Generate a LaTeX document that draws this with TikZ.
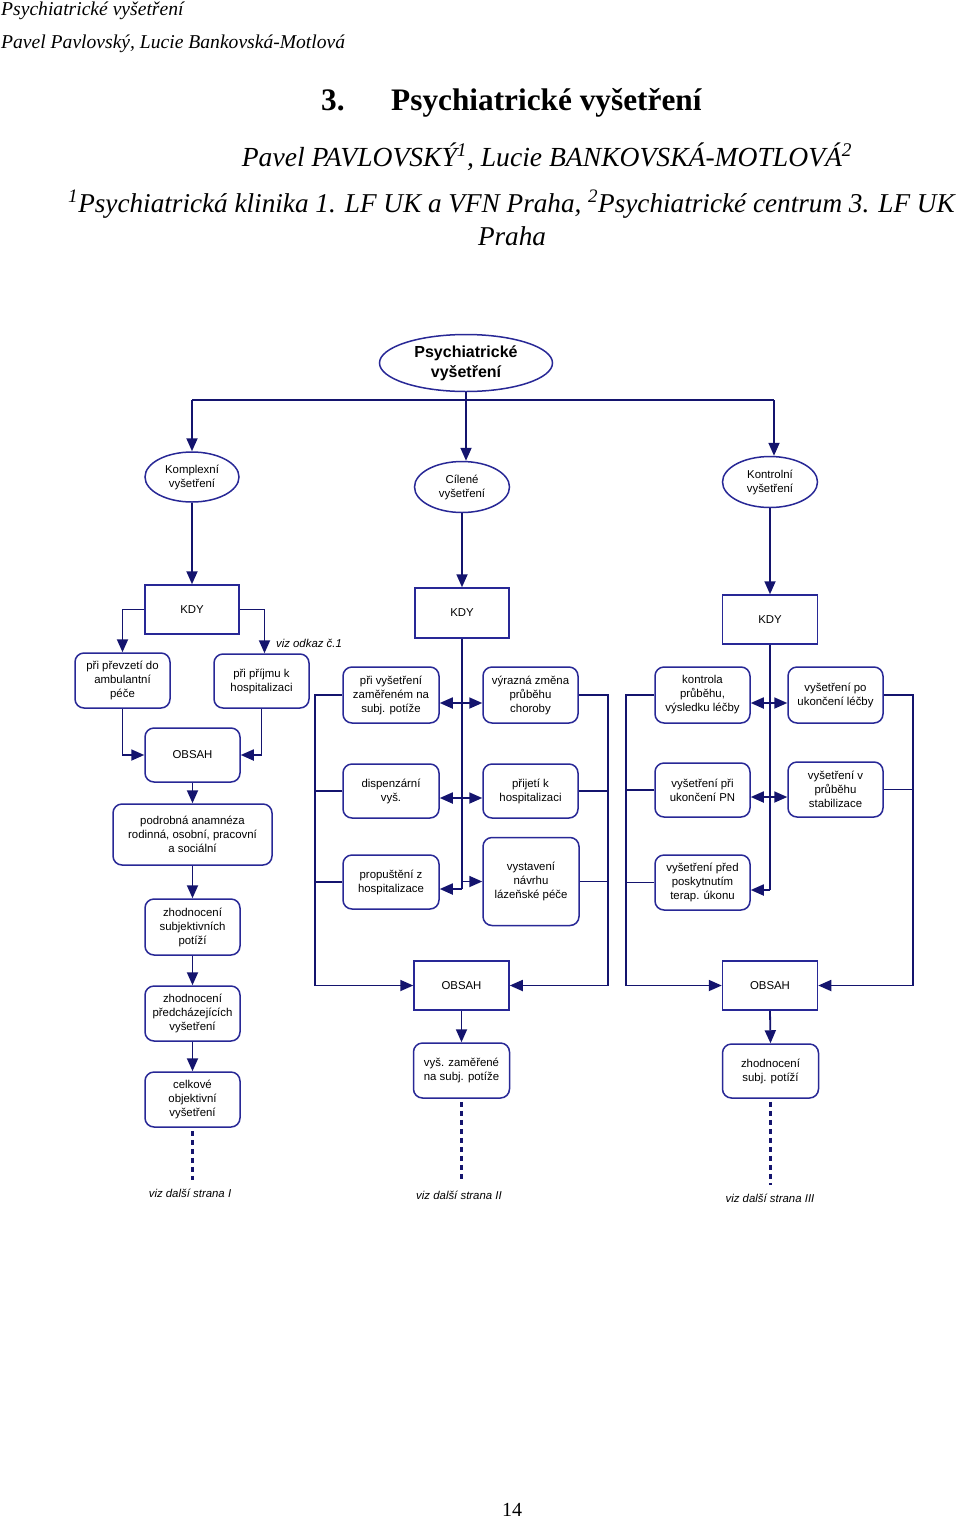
\documentclass[tikz,border=0pt]{standalone}
\usepackage{fontspec}
\setmainfont{Liberation Serif}
\newfontfamily\arial{Liberation Sans}
\usetikzlibrary{shapes.geometric,arrows.meta}
\definecolor{boxcol}{RGB}{40,40,150}
\definecolor{linecol}{RGB}{20,20,110}
\tikzset{
 dtext/.style={font=\arial\fontsize{11.4}{14}\selectfont, align=center, text=black},
 ell/.style={dtext, ellipse, draw=boxcol, line width=1.5pt, inner sep=0pt},
 sqbox/.style={dtext, rectangle, draw=boxcol, line width=1.5pt, inner sep=0pt, minimum width=94pt, minimum height=49pt},
 rbox/.style={dtext, rectangle, rounded corners=9pt, draw=boxcol, line width=1.5pt, inner sep=0pt, minimum width=95pt, minimum height=55pt},
 conn/.style={draw=linecol, line width=1.8pt},
 arr/.style={conn, -{Triangle[length=13pt,width=11pt]}},
 dotl/.style={draw=linecol, line width=2.2pt, dash pattern=on 5pt off 4pt, shorten <=3pt},
 note/.style={font=\arial\itshape\fontsize{11.4}{14}\selectfont, text=black, inner sep=0pt},
 serif/.style={inner sep=0pt, text=black},
}
\begin{document}
\begin{tikzpicture}[x=1pt,y=-1pt]
\useasboundingbox[fill=white] (0,0) rectangle (960,1521);

% ---------- header ----------
\node[serif, anchor=base west, font=\itshape\fontsize{19.6}{22}\selectfont] (h1) at (1,15) {Psychiatrické vyšetření};
\node[serif, anchor=base west, font=\itshape\fontsize{19.6}{22}\selectfont] (h2) at (1,48) {Pavel Pavlovský, Lucie Bankovská-Motlová};
\node[serif, anchor=base west, font=\bfseries\fontsize{31.3}{34}\selectfont] (t1) at (321,110) {3.};
\node[serif, anchor=base west, font=\bfseries\fontsize{31.3}{34}\selectfont] (t2) at (391,110) {Psychiatrické vyšetření};
\node[serif, anchor=base, font=\itshape\fontsize{27.6}{30}\selectfont] (au) at (547,166) {Pavel PAVLOVSKÝ\textsuperscript{1}, Lucie BANKOVSKÁ-MOTLOVÁ\textsuperscript{2}};
\node[serif, anchor=base, font=\itshape\fontsize{27.2}{30}\selectfont] (af) at (511.5,212) {\textsuperscript{1}Psychiatrická klinika 1. LF UK a VFN Praha, \textsuperscript{2}Psychiatrické centrum 3. LF UK};
\node[serif, anchor=base, font=\itshape\fontsize{27.2}{30}\selectfont] (af2) at (512,245) {Praha};

% ---------- top ----------
\node[ell, font=\arial\bfseries\fontsize{16}{20}\selectfont, minimum width=173pt, minimum height=57pt] (root) at (466,363) {Psychiatrické\\vyšetření};
\node[ell, minimum width=94pt, minimum height=50pt] (komp) at (192,477) {Komplexní\\vyšetření};
\node[ell, minimum width=95pt, minimum height=51pt] (cil) at (462,487) {Cílené\\vyšetření};
\node[ell, minimum width=95pt, minimum height=51pt] (kon) at (770,482) {Kontrolní\\vyšetření};

\coordinate (hl) at (192,400);
\coordinate (hm) at (466,400);
\coordinate (hr) at (774,400);
\draw[conn] (root.south) -- (hm);
\draw[conn] (hl) -- (hr);
\draw[arr] (hl) -- (komp.north);
\draw[arr] (hm) -- (hm |- cil.north);
\draw[arr] (hr) -- (hr |- kon.north);

% ---------- KDY ----------
\node[sqbox] (kdy1) at (192,609.5) {KDY};
\node[sqbox, minimum height=50pt] (kdy2) at (462,613) {KDY};
\node[sqbox, minimum width=95pt] (kdy3) at (770,619.5) {KDY};
\draw[arr] (komp.south) -- (kdy1.north);
\draw[arr] (cil.south) -- (kdy2.north);
\draw[arr] (kon.south) -- (kdy3.north);

% ---------- left column ----------
\node[rbox] (a1) at (122.5,680.5) {při převzetí do\\ambulantní\\péče};
\node[rbox, minimum height=54pt] (a2) at (261.5,681) {při příjmu k\\hospitalizaci};
\node[note] (viz1) at (309,643) {viz odkaz č.1};
\draw[arr] (kdy1.west) -| (a1.north);
\draw[arr] (kdy1.east) -| ([xshift=3pt]a2.north);

\node[rbox, minimum height=54pt] (obs1) at (192.5,755) {OBSAH};
\draw[arr] (a1.south) |- (obs1.west);
\draw[arr] (a2.south) |- (obs1.east);

\node[rbox, minimum width=159pt, minimum height=61pt] (pod) at (192.5,834.5) {podrobná anamnéza\\rodinná, osobní, pracovní\\a sociální};
\node[rbox, minimum height=56pt] (zs) at (192.5,927) {zhodnocení\\subjektivních\\potíží};
\node[rbox] (zp) at (192.5,1013.5) {zhodnocení\\předcházejících\\vyšetření};
\node[rbox] (co) at (192.5,1099.5) {celkové\\objektivní\\vyšetření};
\draw[arr] (obs1.south) -- (pod.north);
\draw[arr] (pod.south) -- (zs.north);
\draw[arr] (zs.south) -- (zp.north);
\draw[arr] (zp.south) -- (co.north);
\coordinate (e1) at (192.5,1180);
\draw[dotl] (co.south) -- (e1);
\node[note] (n1) at (190,1193) {viz další strana I};

% ---------- middle column ----------
\node[rbox, minimum width=96pt, minimum height=56pt] (m1L) at (391,695) {při vyšetření\\zaměřeném na\\subj. potíže};
\node[rbox, minimum height=56pt] (m1R) at (530.5,695) {výrazná změna\\průběhu\\choroby};
\node[rbox, minimum width=96pt, minimum height=54pt] (m2L) at (391,791) {dispenzární\\vyš.};
\node[rbox, minimum height=54pt] (m2R) at (530.5,791) {přijetí k\\hospitalizaci};
\node[rbox, minimum width=96pt, minimum height=54pt] (m3L) at (391,882) {propuštění z\\hospitalizace};
\node[rbox, minimum width=96pt, minimum height=88pt] (m3R) at (531,881.5) {vystavení\\návrhu\\lázeňské péče};

\coordinate (t2end) at (462,889);
\draw[conn] (kdy2.south) -- (t2end);
\draw[arr] ([yshift=-8pt]m1L.east -| kdy2.south) -- ([yshift=-8pt]m1L.east);
\draw[arr] ([yshift=-8pt]m1R.west -| kdy2.south) -- ([yshift=-8pt]m1R.west);
\draw[arr] ([yshift=-7pt]m2L.east -| kdy2.south) -- ([yshift=-7pt]m2L.east);
\draw[arr] ([yshift=-7pt]m2R.west -| kdy2.south) -- ([yshift=-7pt]m2R.west);
\draw[arr] ([yshift=-7pt]m3L.east -| kdy2.south) -- ([yshift=-7pt]m3L.east);
\draw[arr] (m3R.west -| kdy2.south) -- (m3R.west);

\node[sqbox, minimum width=95pt] (obs2) at (461.5,985.5) {OBSAH};
\coordinate (bl2) at (315,985.5);
\coordinate (br2) at (608,985.5);
\draw[arr] (m1L.west) -| (bl2) -- (obs2.west);
\draw[conn] (m2L.west) -- (m2L.west -| bl2);
\draw[conn] (m3L.west) -- (m3L.west -| bl2);
\draw[arr] (m1R.east) -| (br2) -- (obs2.east);
\draw[conn] (m2R.east) -- (m2R.east -| br2);
\draw[conn] (m3R.east) -- (m3R.east -| br2);

\node[rbox, minimum width=96pt] (vz) at (461.5,1070.5) {vyš. zaměřené\\na subj. potíže};
\draw[arr] (obs2.south) -- (vz.north);
\coordinate (e2) at (461.5,1180);
\draw[dotl] (vz.south) -- (e2);
\node[note] (n2) at (459,1195) {viz další strana II};

% ---------- right column ----------
\node[rbox, minimum height=56pt] (r1L) at (702.5,695) {kontrola\\průběhu,\\výsledku léčby};
\node[rbox, minimum height=56pt] (r1R) at (835.5,695) {vyšetření po\\ukončení léčby};
\node[rbox, minimum height=54pt] (r2L) at (702.5,790) {vyšetření při\\ukončení PN};
\node[rbox] (r2R) at (835.5,789.5) {vyšetření v\\průběhu\\stabilizace};
\node[rbox] (r3L) at (702.5,882.5) {vyšetření před\\poskytnutím\\terap. úkonu};

\coordinate (t3end) at (770,890);
\draw[conn] (kdy3.south) -- (t3end);
\draw[arr] ([yshift=-8pt]r1L.east -| kdy3.south) -- ([yshift=-8pt]r1L.east);
\draw[arr] ([yshift=-8pt]r1R.west -| kdy3.south) -- ([yshift=-8pt]r1R.west);
\draw[arr] ([yshift=-7pt]r2L.east -| kdy3.south) -- ([yshift=-7pt]r2L.east);
\draw[arr] ([yshift=-7.5pt]r2R.west -| kdy3.south) -- ([yshift=-7.5pt]r2R.west);
\draw[arr] ([yshift=-7.5pt]r3L.east -| kdy3.south) -- ([yshift=-7.5pt]r3L.east);

\node[sqbox, minimum width=95pt] (obs3) at (770,985.5) {OBSAH};
\coordinate (bl3) at (626,985.5);
\coordinate (br3) at (913,985.5);
\draw[arr] (r1L.west) -| (bl3) -- (obs3.west);
\draw[conn] (r2L.west) -- (r2L.west -| bl3);
\draw[conn] (r3L.west) -- (r3L.west -| bl3);
\draw[arr] (r1R.east) -| (br3) -- (obs3.east);
\draw[conn] (r2R.east) -- (r2R.east -| br3);

\node[rbox, minimum width=96pt, minimum height=54pt] (zsp) at (770.5,1071) {zhodnocení\\subj. potíží};
\draw[arr] (obs3.south) -- (zsp.north);
\coordinate (e3) at (770.5,1185);
\draw[dotl] (zsp.south) -- (e3);
\node[note] (n3) at (770,1198) {viz další strana III};

% ---------- page number ----------
\node[serif, font=\fontsize{20}{24}\selectfont] (pg) at (512,1510) {14};
\end{tikzpicture}
\end{document}
